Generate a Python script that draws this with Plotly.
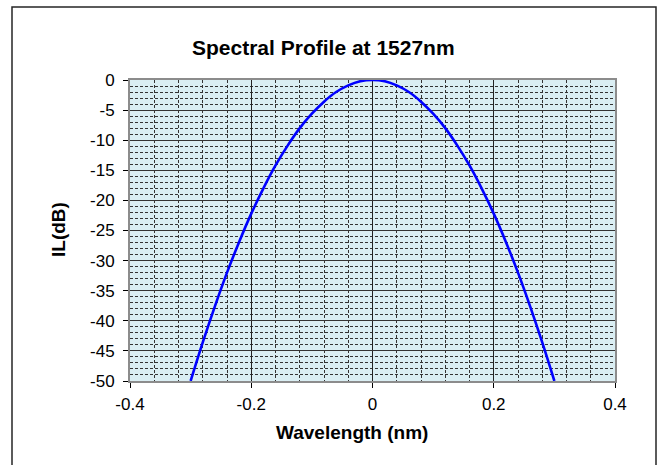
import plotly.graph_objects as go

# Data
wavelength_nm = [-0.30, -0.28, -0.26, -0.24, -0.22, -0.20, -0.18, -0.16, -0.14, -0.12,
                 -0.10, -0.08, -0.06, -0.04, -0.02, 0.00, 0.02, 0.04, 0.06, 0.08,
                 0.10, 0.12, 0.14, 0.16, 0.18, 0.20, 0.22, 0.24, 0.26, 0.28, 0.30]
il_db = [-50.0, -43.6, -37.6, -32.0, -26.9, -22.2, -18.0, -14.2, -10.9, -8.0,
         -5.6, -3.6, -2.0, -0.9, -0.2, 0.0, -0.2, -0.9, -2.0, -3.6,
         -5.6, -8.0, -10.9, -14.2, -18.0, -22.2, -26.9, -32.0, -37.6, -43.6, -50.0]

x_ticks = [-0.4, -0.2, 0, 0.2, 0.4]
x_tick_text = ["-0.4", "-0.2", "0", "0.2", "0.4"]
y_ticks = [0, -5, -10, -15, -20, -25, -30, -35, -40, -45, -50]
y_tick_text = [str(v) for v in y_ticks]

W, H = 660, 465
L, R, T, B = 130, 45, 80, 84
pw, ph = W - L - R, H - T - B

def px(x):
    return (x - L) / pw

def py(y):
    return (H - B - y) / ph

font = "Liberation Sans, Arial, sans-serif"

fig = go.Figure()
fig.add_trace(go.Scatter(x=wavelength_nm, y=il_db, mode="lines",
                         line=dict(color="#0000FF", width=2.6, shape="spline"),
                         showlegend=False, hoverinfo="skip"))

fig.update_layout(
    width=W, height=H,
    margin=dict(l=L, r=R, t=T, b=B),
    paper_bgcolor="white",
    plot_bgcolor="#DAEEF3",
    font=dict(family=font, size=17, color="black"),
    showlegend=False,
)

fig.update_xaxes(
    range=[-0.4, 0.4], tickvals=x_ticks, ticktext=x_tick_text,
    ticks="outside", ticklen=5, tickcolor="black",
    showgrid=True, gridcolor="#222222", gridwidth=1, zeroline=False,
    minor=dict(dtick=0.04, tick0=0, showgrid=True, gridcolor="#333333",
               griddash="3px,2px", gridwidth=1, ticks=""),
    showline=True, linecolor="#8c8c8c", linewidth=2, mirror=True,
    tickfont=dict(size=17, family=font),
    ticklabelstandoff=2,
)
fig.update_yaxes(
    range=[-50, 0], tickvals=y_ticks, ticktext=y_tick_text,
    ticks="outside", ticklen=5, tickcolor="black",
    showgrid=True, gridcolor="#333333", gridwidth=1, zeroline=False,
    minor=dict(dtick=1, tick0=0, showgrid=True, gridcolor="#333333",
               griddash="3px,2px", gridwidth=1, ticks=""),
    showline=True, linecolor="#8c8c8c", linewidth=2, mirror=True,
    tickfont=dict(size=17, family=font),
    ticklabelstandoff=5,
)

# Title and axis titles
fig.add_annotation(text="<b>Spectral Profile at 1527nm</b>", xref="paper", yref="paper",
                   x=px(323), y=py(48), showarrow=False, xanchor="center", yanchor="middle",
                   font=dict(size=21, family=font, color="black"))
fig.add_annotation(text="<b>Wavelength (nm)</b>", xref="paper", yref="paper",
                   x=px(352), y=py(432), showarrow=False, xanchor="center", yanchor="middle",
                   font=dict(size=19, family=font, color="black"))
fig.add_annotation(text="<b>IL(dB)</b>", xref="paper", yref="paper",
                   x=px(58), y=py(230), showarrow=False, xanchor="center", yanchor="middle",
                   textangle=-90, font=dict(size=19, family=font, color="black"))

# Outer chart-area border
fig.add_shape(type="rect", xref="paper", yref="paper",
              x0=px(12), x1=px(656), y0=py(475), y1=py(7),
              line=dict(color="#262626", width=1.5), fillcolor="rgba(0,0,0,0)", layer="below")

fig.write_html("out.html")
